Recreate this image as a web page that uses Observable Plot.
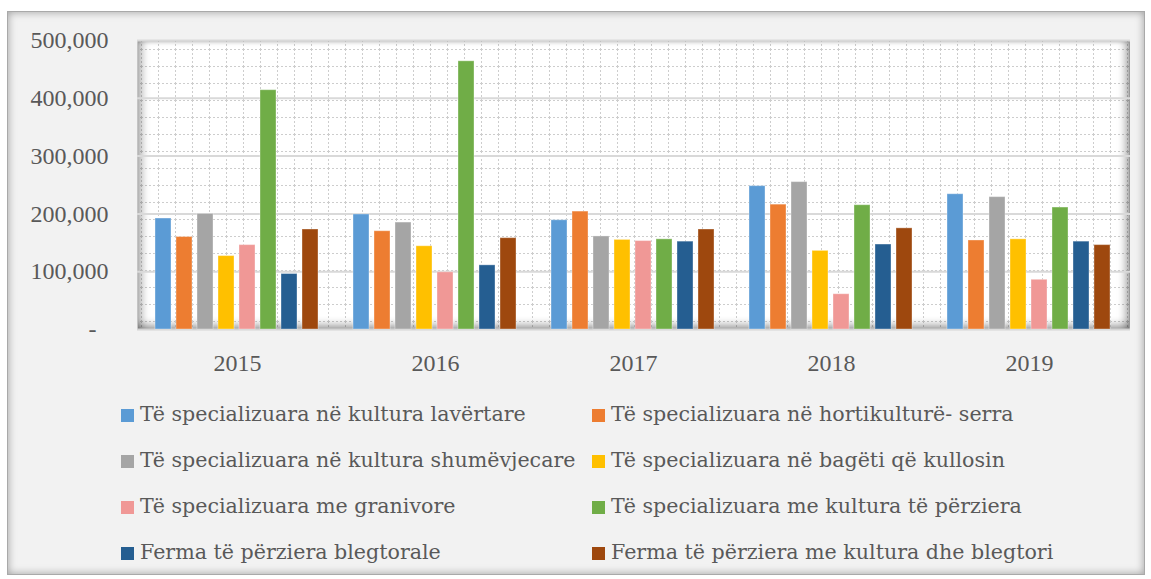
<!DOCTYPE html>
<html>
<head>
<meta charset="utf-8">
<script src="https://cdn.jsdelivr.net/npm/d3@7"></script>
<script src="https://cdn.jsdelivr.net/npm/@observablehq/plot@0.6"></script>
<style>
  html, body { margin: 0; padding: 0; background: #ffffff; }
  body { width: 1151px; height: 579px; position: relative; overflow: hidden;
         font-family: "Liberation Serif", serif; }
  #frame { position: absolute; left: 7px; top: 11px; width: 1136px; height: 562px;
           background: #f2f2f2; border: 1px solid #a9a9a9;
           box-shadow: inset 0 0 9px rgba(0,0,0,0.35); }
  #plotbg { position: absolute; left: 137px; top: 40px; width: 993px; height: 289px; box-sizing: border-box;
            background-color: #ffffff;
            background-image: url("data:image/svg+xml,%3Csvg xmlns='http://www.w3.org/2000/svg' width='17' height='17'%3E%3Cpath d='M0 0.5H17M0.5 0V17' stroke='%23cdcdcd' stroke-width='1' stroke-dasharray='2 2' fill='none'/%3E%3C/svg%3E");
            background-position: 3px 8px;
            border-top: 1px solid #c4c4c4; border-left: 1px solid #c4c4c4; border-right: 1px solid #9a9a9a;
            box-shadow: inset 11px 0 10px -8px rgba(0,0,0,0.38),
                        inset -9px 0 8px -6px rgba(0,0,0,0.38),
                        inset 0 -11px 10px -8px rgba(0,0,0,0.45),
                        inset 0 4px 4px -3px rgba(0,0,0,0.25); }
  .layer { position: absolute; left: 0; top: 0; }
  #legend { position: absolute; left: 121px; top: 391px; display: grid;
            grid-template-columns: 471px auto; grid-auto-rows: 46px; color: #595959;
            font-family: "DejaVu Serif", serif; font-size: 20.6px; }
  .item { display: flex; align-items: center; white-space: nowrap; }
  .sw { width: 13px; height: 13px; margin-right: 6px; margin-top: 3px; flex: none; }
</style>
</head>
<body>
<div id="frame"></div>
<div id="plotbg"></div>
<div id="grid" class="layer"></div>
<div id="bars" class="layer"></div>
<div id="legend"></div>
<script>
const years = ["2015", "2016", "2017", "2018", "2019"];
const seriesNames = [
  "Të specializuara në kultura lavërtare",
  "Të specializuara në hortikulturë- serra",
  "Të specializuara në kultura shumëvjecare",
  "Të specializuara në bagëti që kullosin",
  "Të specializuara me granivore",
  "Të specializuara me kultura të përziera",
  "Ferma të përziera blegtorale",
  "Ferma të përziera me kultura dhe blegtori"
];
const colors = ["#5b9bd5", "#ed7d31", "#a5a5a5", "#ffc000", "#f09896", "#70ad47", "#255e91", "#9e480e"];
const lavertare     = [192000, 199000, 189000, 248000, 234000];
const hortikulture  = [160000, 170000, 204000, 216000, 154000];
const shumevjecare  = [200000, 185000, 161000, 255000, 229000];
const bageti        = [127000, 144000, 155000, 136000, 156000];
const granivore     = [146000,  99000, 153000,  61000,  86000];
const kulturaPerz   = [414000, 464000, 156000, 215000, 211000];
const blegtorale    = [ 96000, 111000, 152000, 147000, 152000];
const kulturaBlegt  = [173000, 158000, 173000, 175000, 146000];
const yTicks = [0, 100000, 200000, 300000, 400000, 500000];

const seriesValues = [lavertare, hortikulture, shumevjecare, bageti, granivore, kulturaPerz, blegtorale, kulturaBlegt];
const rows = [];
years.forEach((yr, i) => seriesNames.forEach((s, j) => rows.push({year: yr, series: s, value: seriesValues[j][i]})));

const font = "'Liberation Serif', serif";
const common = {
  width: 1151, height: 380,
  marginLeft: 137, marginRight: 21, marginTop: 40, marginBottom: 51,
};
const fmt = d => d === 0 ? "-\u00a0\u00a0" : d3.format(",")(d);

const gridPlot = Plot.plot({
  ...common,
  style: {background: "transparent", fontFamily: font, fontSize: "24px", color: "#595959", overflow: "visible"},
  y: {domain: [0, 500000]},
  marks: [
    Plot.gridY(yTicks.slice(1), {stroke: "#d9d9d9", strokeOpacity: 1, strokeWidth: 2}),
    Plot.ruleY([0], {stroke: "#d4d4d4", strokeWidth: 2}),
    Plot.axisY(yTicks, {tickSize: 0, tickPadding: 29, tickFormat: fmt, fontSize: 24, fontFamily: font, label: null})
  ]
});
document.getElementById("grid").appendChild(gridPlot);

const barPlot = Plot.plot({
  ...common,
  style: {background: "transparent", fontFamily: font, fontSize: "24px", color: "#595959", overflow: "visible"},
  fx: {domain: years, paddingInner: 0.1, paddingOuter: 0.05, axis: "bottom", tickSize: 0, tickPadding: 24, label: null},
  x: {domain: seriesNames, padding: 0.23, axis: null},
  y: {domain: [0, 500000], axis: null},
  color: {domain: seriesNames, range: colors},
  marks: [
    Plot.barY(rows, {fx: "year", x: "series", y: "value", fill: "series", stroke: "#ffffff", strokeOpacity: 0.35, strokeWidth: 1})
  ]
});
document.getElementById("bars").appendChild(barPlot);

const legend = document.getElementById("legend");
seriesNames.forEach((s, i) => {
  const item = document.createElement("div");
  item.className = "item";
  const sw = document.createElement("span");
  sw.className = "sw";
  sw.style.background = colors[i];
  const t = document.createElement("span");
  t.textContent = s;
  item.appendChild(sw);
  item.appendChild(t);
  legend.appendChild(item);
});
</script>
</body>
</html>
